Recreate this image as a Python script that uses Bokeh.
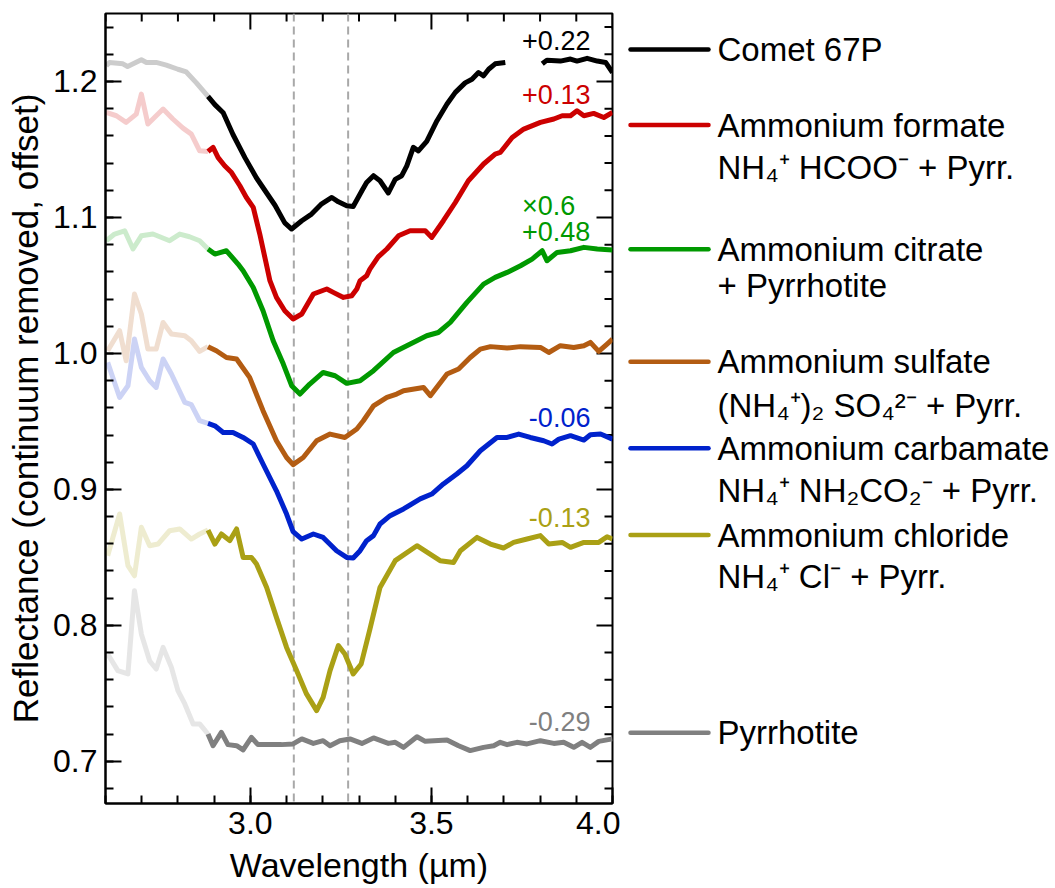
import numpy as np
from bokeh.plotting import figure
from bokeh.models import Range1d, FixedTicker, Span, Label, NumeralTickFormatter
from bokeh.layouts import row
from bokeh.embed import file_html
from bokeh.resources import INLINE
from bokeh.core.properties import value

NAN = float("nan")

# ---------------- data ----------------
series_names = ["Comet 67P", "Ammonium formate", "Ammonium citrate", "Ammonium sulfate",
                "Ammonium carbamate", "Ammonium chloride", "Pyrrhotite"]

comet_wl = [2.602, 2.611, 2.648, 2.661, 2.699, 2.713, 2.740, 2.768, 2.800, 2.823, 2.851, 2.883,
            2.902, 2.925, 2.952, 2.985, 3.017, 3.045, 3.068, 3.095, 3.114, 3.142, 3.169, 3.197,
            3.225, 3.243, 3.266, 3.284, 3.308, 3.321, 3.340, 3.358, 3.381, 3.400, 3.418, 3.432,
            3.450, 3.464, 3.487, 3.515, 3.543, 3.566, 3.593, 3.612, 3.630, 3.644, 3.658, 3.676,
            3.704, 3.755, 3.806, 3.819, 3.856, 3.884, 3.902, 3.930, 3.958, 3.981, 4.000]
comet_r = [1.2115, 1.214, 1.213, 1.211, 1.216, 1.214, 1.214, 1.212, 1.209, 1.207, 1.199, 1.189,
           1.183, 1.177, 1.161, 1.144, 1.129, 1.118, 1.109, 1.096, 1.0915, 1.0976, 1.1025, 1.110,
           1.1147, 1.1115, 1.1086, 1.108, 1.1196, 1.1257, 1.1307, 1.127, 1.118, 1.128, 1.1307, 1.138,
           1.1515, 1.149, 1.156, 1.171, 1.1834, 1.192, 1.199, 1.2017, 1.2066, 1.2042, 1.209, 1.213,
           1.214, NAN, 1.213, 1.2157, 1.215, 1.2165, 1.215, 1.217, 1.215, 1.214, 1.2066]

formate_wl = [2.602, 2.630, 2.657, 2.685, 2.699, 2.717, 2.759, 2.786, 2.814, 2.837, 2.860, 2.883,
              2.897, 2.911, 2.929, 2.948, 2.971, 2.989, 3.008, 3.026, 3.043, 3.054, 3.072, 3.095,
              3.118, 3.142, 3.174, 3.211, 3.229, 3.257, 3.280, 3.294, 3.303, 3.321, 3.330, 3.353,
              3.377, 3.409, 3.441, 3.483, 3.501, 3.533, 3.566, 3.602, 3.644, 3.676, 3.690, 3.723,
              3.755, 3.801, 3.838, 3.861, 3.884, 3.902, 3.921, 3.948, 3.976, 4.000]
formate_r = [1.1772, 1.1748, 1.1699, 1.176, 1.1907, 1.1687, 1.1797, 1.1724, 1.1657, 1.1613, 1.149, 1.1485,
             1.1515, 1.144, 1.138, 1.133, 1.1233, 1.1147, 1.1074, 1.0878, 1.067, 1.0535, 1.0412, 1.0314,
             1.0253, 1.029, 1.0437, 1.0474, 1.0449, 1.0412, 1.0424, 1.0474, 1.0535, 1.0571, 1.062, 1.071,
             1.0768, 1.0865, 1.0902, 1.0902, 1.0853, 1.0976, 1.111, 1.127, 1.1393, 1.1466, 1.1478, 1.1588,
             1.165, 1.1699, 1.1724, 1.1748, 1.1748, 1.1785, 1.1748, 1.1765, 1.1735, 1.1772]

citrate_wl = [2.602, 2.625, 2.653, 2.676, 2.699, 2.731, 2.777, 2.805, 2.832, 2.860, 2.883, 2.902,
              2.934, 2.966, 2.980, 3.008, 3.035, 3.063, 3.091, 3.114, 3.137, 3.164, 3.201, 3.234,
              3.266, 3.303, 3.340, 3.395, 3.432, 3.487, 3.519, 3.552, 3.598, 3.644, 3.676, 3.709,
              3.746, 3.778, 3.806, 3.819, 3.847, 3.884, 3.921, 3.958, 4.000]
citrate_r = [1.0829, 1.0878, 1.0902, 1.0768, 1.0865, 1.0878, 1.0829, 1.0878, 1.0858, 1.0829, 1.0768, 1.0731,
             1.0755, 1.0657, 1.0608, 1.0485, 1.0314, 1.0093, 0.9922, 0.9763, 0.9701, 0.9775, 0.986, 0.9836,
             0.978, 0.9799, 0.9873, 1.0007, 1.0057, 1.013, 1.0154, 1.0228, 1.0375, 1.051, 1.0559, 1.0596,
             1.0645, 1.0694, 1.0755, 1.0682, 1.0743, 1.0755, 1.078, 1.0768, 1.076]

sulfate_wl = [2.606, 2.639, 2.657, 2.680, 2.699, 2.717, 2.740, 2.759, 2.782, 2.819, 2.837, 2.860,
              2.883, 2.906, 2.934, 2.962, 2.998, 3.035, 3.072, 3.100, 3.118, 3.146, 3.183, 3.220,
              3.261, 3.294, 3.312, 3.340, 3.377, 3.404, 3.423, 3.478, 3.497, 3.543, 3.575, 3.607,
              3.635, 3.663, 3.709, 3.746, 3.801, 3.824, 3.856, 3.893, 3.921, 3.939, 3.962, 3.985, 4.000]
sulfate_r = [1.002, 1.0167, 0.9946, 1.0437, 1.029, 1.0032, 1.0032, 1.0228, 1.0143, 1.013, 1.0093, 1.0015,
             1.005, 1.002, 0.997, 0.9959, 0.9824, 0.9579, 0.9358, 0.9235, 0.9182, 0.9235, 0.9358, 0.9407,
             0.9382, 0.9444, 0.9505, 0.9615, 0.9677, 0.9701, 0.9726, 0.975, 0.9689, 0.9849, 0.9885, 0.997,
             1.0032, 1.005, 1.004, 1.005, 1.0044, 1.0007, 1.0057, 1.0044, 1.0057, 1.0081, 1.0015, 1.0069, 1.0105]

carbamate_wl = [2.606, 2.639, 2.662, 2.680, 2.699, 2.722, 2.740, 2.759, 2.782, 2.819, 2.837, 2.860,
                2.883, 2.902, 2.925, 2.952, 2.980, 3.008, 3.035, 3.072, 3.100, 3.118, 3.142, 3.174,
                3.201, 3.238, 3.266, 3.284, 3.303, 3.321, 3.340, 3.358, 3.386, 3.423, 3.469, 3.501,
                3.533, 3.570, 3.598, 3.635, 3.681, 3.709, 3.741, 3.773, 3.810, 3.833, 3.852, 3.884,
                3.921, 3.939, 3.967, 4.000]
carbamate_r = [0.9934, 0.9676, 0.9762, 1.0106, 0.9897, 0.9799, 0.975, 0.9959, 0.9849, 0.964, 0.9623, 0.9505,
               0.9485, 0.9468, 0.9419, 0.9419, 0.9382, 0.9334, 0.9187, 0.899, 0.8819, 0.869, 0.8635, 0.8672,
               0.8647, 0.8549, 0.85, 0.8495, 0.8549, 0.8623, 0.866, 0.8746, 0.8807, 0.8856, 0.893, 0.8966,
               0.904, 0.9113, 0.9174, 0.9284, 0.9382, 0.9382, 0.9407, 0.9382, 0.9358, 0.9334, 0.937, 0.9395,
               0.9363, 0.9402, 0.9407, 0.937]

chloride_wl = [2.606, 2.639, 2.662, 2.680, 2.699, 2.722, 2.745, 2.777, 2.805, 2.837, 2.860, 2.883,
               2.902, 2.920, 2.943, 2.962, 2.980, 3.003, 3.017, 3.045, 3.072, 3.100, 3.128, 3.155,
               3.183, 3.201, 3.220, 3.243, 3.261, 3.284, 3.306, 3.330, 3.358, 3.400, 3.460, 3.524,
               3.561, 3.580, 3.626, 3.663, 3.699, 3.727, 3.764, 3.801, 3.824, 3.861, 3.884, 3.921,
               3.962, 3.985, 4.000]
chloride_r = [0.8512, 0.8819, 0.8439, 0.8365, 0.8721, 0.8586, 0.8598, 0.8696, 0.8709, 0.8635, 0.8672, 0.8701,
              0.8598, 0.8672, 0.8623, 0.8709, 0.85, 0.85, 0.8451, 0.8279, 0.8059, 0.7838, 0.7667, 0.7496,
              0.7373, 0.747, 0.7667, 0.7851, 0.779, 0.7643, 0.7716, 0.797, 0.8279, 0.8476, 0.8586, 0.8476,
              0.8463, 0.8549, 0.8647, 0.8598, 0.8569, 0.861, 0.8635, 0.866, 0.8598, 0.861, 0.8574, 0.861,
              0.861, 0.8652, 0.8635]

pyrrhotite_wl = [2.606, 2.634, 2.662, 2.680, 2.699, 2.722, 2.740, 2.759, 2.782, 2.800, 2.819, 2.842,
                 2.860, 2.883, 2.897, 2.920, 2.938, 2.962, 2.980, 3.003, 3.021, 3.054, 3.086, 3.118,
                 3.142, 3.174, 3.201, 3.220, 3.247, 3.275, 3.308, 3.340, 3.381, 3.400, 3.423, 3.460,
                 3.483, 3.543, 3.575, 3.607, 3.644, 3.672, 3.690, 3.709, 3.736, 3.764, 3.801, 3.838,
                 3.865, 3.893, 3.916, 3.939, 3.962, 4.000]
pyrrhotite_r = [0.779, 0.7667, 0.7643, 0.8255, 0.7937, 0.7738, 0.7679, 0.7838, 0.7691, 0.752, 0.7422, 0.7275,
                0.7275, 0.7201, 0.7115, 0.7213, 0.7123, 0.7115, 0.7084, 0.7176, 0.7123, 0.7123, 0.7123, 0.7128,
                0.7165, 0.7132, 0.7152, 0.7115, 0.7152, 0.7165, 0.7132, 0.7172, 0.7132, 0.714, 0.7103, 0.7181,
                0.7147, 0.7157, 0.7115, 0.7079, 0.7103, 0.7115, 0.714, 0.7123, 0.714, 0.7128, 0.7152, 0.7132,
                0.714, 0.7103, 0.714, 0.7103, 0.7147, 0.7165]

legend_texts = [["Comet 67P"],
                ["Ammonium formate", "NH\u2084\u207a HCOO\u207b + Pyrr."],
                ["Ammonium citrate", "+ Pyrrhotite"],
                ["Ammonium sulfate", "(NH\u2084\u207a)\u2082 SO\u2084\u00b2\u207b + Pyrr."],
                ["Ammonium carbamate", "NH\u2084\u207a NH\u2082CO\u2082\u207b + Pyrr."],
                ["Ammonium chloride", "NH\u2084\u207a Cl\u207b + Pyrr."],
                ["Pyrrhotite"]]

offset_texts = [["+0.22"], ["+0.13"], ["\u00d70.6", "+0.48"], [], ["-0.06"], ["-0.13"], ["-0.29"]]
band_centers = [3.12, 3.27]
x_major = [3.0, 3.5, 4.0]
y_major = [0.7, 0.8, 0.9, 1.0, 1.1, 1.2]
x_minor = [round(v, 2) for v in np.arange(2.6, 4.001, 0.1)]
y_minor = [round(v, 2) for v in np.arange(0.66, 1.261, 0.02)]

# ---------------- styles / layout ----------------
FONT = "Liberation Sans"
colors = ["#000000", "#cc0000", "#009900", "#b35c12", "#0022cc", "#aaa015", "#808080"]
CUT = 2.883
X0, X1 = 2.6, 4.0
Y0, Y1 = 0.669, 1.25
FW, FH = 507, 790          # plot frame size in px
BL, BT, BR, BB = 105, 13, 8, 85
W_MAIN = BL + FW + BR
H = BT + FH + BB
MAJ_LEN, MIN_LEN = 16, 8

series = [(comet_wl, comet_r), (formate_wl, formate_r), (citrate_wl, citrate_r),
          (sulfate_wl, sulfate_r), (carbamate_wl, carbamate_r), (chloride_wl, chloride_r),
          (pyrrhotite_wl, pyrrhotite_r)]

p = figure(width=W_MAIN, height=H, x_range=Range1d(X0, X1), y_range=Range1d(Y0, Y1),
           output_backend="svg", toolbar_location=None,
           min_border_left=BL, min_border_right=BR, min_border_top=BT, min_border_bottom=BB,
           x_axis_label="Wavelength (\u00b5m)",
           y_axis_label="Reflectance (continuum removed, offset)")
p.grid.visible = False
p.outline_line_color = "black"
p.outline_line_width = 2
p.background_fill_color = "white"
p.border_fill_color = "white"

p.xaxis.ticker = FixedTicker(ticks=x_major, minor_ticks=x_minor)
p.yaxis.ticker = FixedTicker(ticks=y_major, minor_ticks=y_minor)
p.xaxis.formatter = NumeralTickFormatter(format="0.0")
p.yaxis.formatter = NumeralTickFormatter(format="0.0")

for ax in p.xaxis + p.yaxis:
    ax.axis_line_width = 2
    ax.axis_line_color = "black"
    ax.major_tick_in = MAJ_LEN
    ax.major_tick_out = 0
    ax.minor_tick_in = MIN_LEN
    ax.minor_tick_out = 0
    ax.major_tick_line_width = 2
    ax.minor_tick_line_width = 2
    ax.major_tick_line_color = "black"
    ax.minor_tick_line_color = "black"
    ax.major_label_text_font = FONT
    ax.major_label_text_font_size = "32px"
    ax.major_label_text_color = "black"
    ax.axis_label_text_font = FONT
    ax.axis_label_text_font_style = "normal"
    ax.axis_label_text_color = "black"
p.xaxis.axis_label_text_font_size = "34px"
p.yaxis.axis_label_text_font_size = "35px"
p.xaxis.major_label_standoff = 8
p.xaxis.axis_label_standoff = 9
p.yaxis.major_label_standoff = 8
p.yaxis.axis_label_standoff = 5

# mirrored ticks on the top and right edges (same tick lists, lengths in px)
ppx = FW / (X1 - X0)
ppy = FH / (Y1 - Y0)
for ticks, ln in ((x_major, MAJ_LEN), ([t for t in x_minor if t not in x_major], MIN_LEN)):
    p.segment(x0=ticks, x1=ticks, y0=[Y1] * len(ticks), y1=[Y1 - ln / ppy] * len(ticks),
              line_color="black", line_width=2)
for ticks, ln in ((y_major, MAJ_LEN), ([t for t in y_minor if t not in y_major], MIN_LEN)):
    p.segment(x0=[X1] * len(ticks), x1=[X1 - ln / ppx] * len(ticks), y0=ticks, y1=ticks,
              line_color="black", line_width=2)

for loc in band_centers:
    p.add_layout(Span(location=loc, dimension="height", line_color="#a8a8a8",
                      line_width=2, line_dash="8 5", level="underlay"))

for (wl, r), c in zip(series, colors):
    x = np.array(wl)
    y = np.array(r)
    faded = x <= CUT
    bold = x >= CUT
    p.line(x[faded], y[faded], line_color=c, line_alpha=0.2, line_width=5, line_join="round")
    p.line(x[bold], y[bold], line_color=c, line_width=5, line_join="round")

# offset annotations: (x anchor, align, y of text middle)
ann_pos = [[(3.939, "right", 1.2299)],
           [(3.939, "right", 1.1907)],
           [(3.750, "left", 1.1086), (3.750, "left", 1.0895)],
           [],
           [(3.939, "right", 0.9526)],
           [(3.939, "right", 0.8790)],
           [(3.939, "right", 0.7293)]]
for texts, poss, c in zip(offset_texts, ann_pos, colors):
    for t, (ax_, al, ay) in zip(texts, poss):
        p.add_layout(Label(x=ax_, y=ay, text=t, text_align=al, text_baseline="middle",
                           text_font=FONT, text_font_size="27px", text_color=c))

# ---------------- legend panel (page-pixel coordinates) ----------------
# In a row, Bokeh aligns this panel's frame with the main frame (BT .. BT+FH),
# so the y range spans those page pixels.
LW = 1055 - W_MAIN
leg = figure(width=LW, height=H, x_range=Range1d(0, LW), y_range=Range1d(BT + FH, BT),
             output_backend="svg", toolbar_location=None, min_border=0,
             x_axis_type=None, y_axis_type=None)
leg.grid.visible = False
leg.outline_line_color = None
leg.background_fill_color = "white"
leg.border_fill_color = "white"

key_x0, key_x1, text_x = 630 - W_MAIN, 708 - W_MAIN, 717 - W_MAIN
key_y = [49, 124.5, 248.7, 361.2, 447.8, 534.5, 732.3]
text_y = [[49], [124.5, 167.2], [248.7, 284.7], [361.2, 404.5], [447.8, 490.3], [534.5, 576.3], [732.3]]
for texts, ky, tys, c in zip(legend_texts, key_y, text_y, colors):
    leg.segment(x0=[key_x0], y0=[ky], x1=[key_x1], y1=[ky], line_color=c, line_width=4.5,
                line_cap="round")
    for t, ty in zip(texts, tys):
        leg.text(x=[text_x], y=[ty], text=[t], text_baseline="middle", text_align="left",
                 text_font=value(FONT), text_font_size="33px", text_color="black")

layout = row(p, leg)
open("out.html", "w").write(file_html(layout, INLINE))
